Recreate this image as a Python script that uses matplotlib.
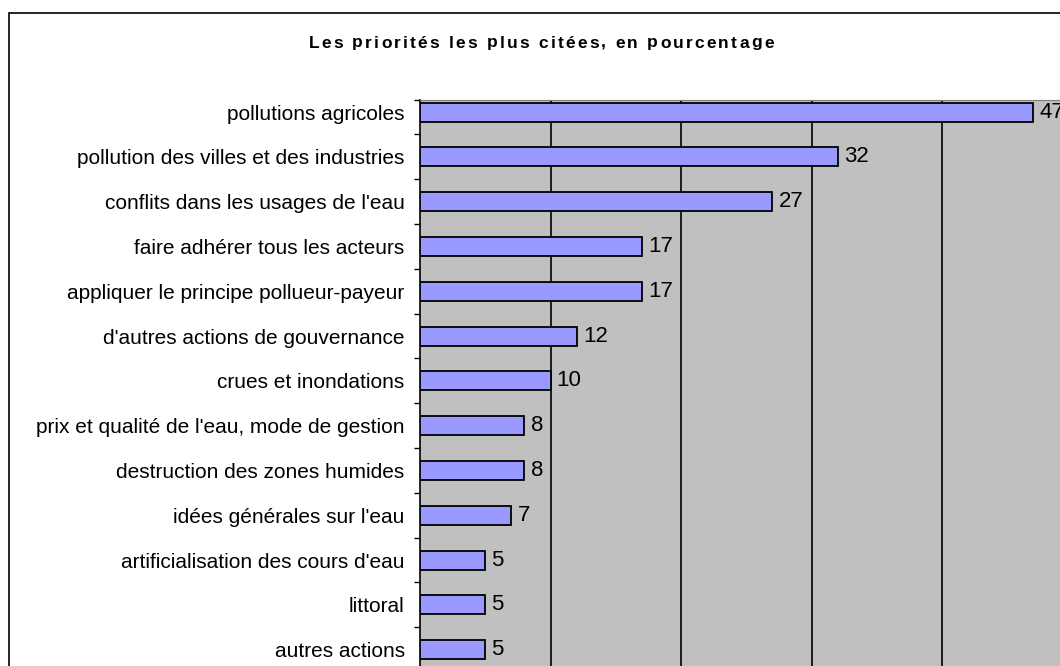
import matplotlib.pyplot as plt
from matplotlib.patches import Rectangle
from matplotlib.font_manager import FontProperties

plt.rcParams['font.family'] = ['Liberation Sans', 'DejaVu Sans']

categories = [
    "pollutions agricoles",
    "pollution des villes et des industries",
    "conflits dans les usages de l'eau",
    "faire adhérer tous les acteurs",
    "appliquer le principe pollueur-payeur",
    "d'autres actions de gouvernance",
    "crues et inondations",
    "prix et qualité de l'eau, mode de gestion",
    "destruction des zones humides",
    "idées générales sur l'eau",
    "artificialisation des cours d'eau",
    "littoral",
    "autres actions",
]
values = [47, 32, 27, 17, 17, 12, 10, 8, 8, 7, 5, 5, 5]
title = "Les priorités les plus citées, en pourcentage"

W, H = 1060, 666
fig = plt.figure(figsize=(W / 100, H / 100), dpi=100)

# outer chart frame (runs off the right and bottom edges)
fig.patches.append(Rectangle((9 / W, -0.1), 1.2, 1 - 13 / H + 0.1,
                             transform=fig.transFigure, fill=False,
                             edgecolor='black', linewidth=1.2))

# plot area, also clipped by the figure edges
left, top = 420, 100
ppu = 13.05          # pixels per unit on x
ppc = 44.8           # pixels per category
y_top, y_bot = -0.27, 13.0
ax_w = 50 * ppu
ax_h = (y_bot - y_top) * ppc
ax = fig.add_axes([left / W, (H - top - ax_h) / H, ax_w / W, ax_h / H])
ax.set_facecolor('#C0C0C0')

pos = list(range(len(categories)))
bars = ax.barh(pos, values, height=0.42, color='#9999FF',
               edgecolor='black', linewidth=1.3, zorder=3)
for b, v in zip(bars, values):
    ax.annotate(str(v), (b.get_width(), b.get_y() + b.get_height() / 2),
                xytext=(4.5, 0), textcoords='offset points',
                va='center', ha='left', fontsize=16, zorder=4)

ax.set_xlim(0, 50)
ax.set_ylim(y_bot, y_top)
ax.set_xticks([10, 20, 30, 40])
ax.xaxis.grid(True, color='black', linewidth=1.2, zorder=1)
ax.tick_params(axis='x', length=0, labelbottom=False)

ax.set_yticks(pos)
ax.set_yticklabels(categories, fontsize=15)
ax.set_yticks([y_top + 0.01] + [p + 0.5 for p in pos[:-1]], minor=True)
ax.tick_params(axis='y', which='major', length=0, pad=11)
ax.tick_params(axis='y', which='minor', length=4.5, width=1, color='black')

for s in ['right', 'bottom']:
    ax.spines[s].set_visible(False)
ax.spines['top'].set_color('#808080')
ax.spines['left'].set_color('black')
ax.spines['left'].set_linewidth(1.2)

# title with slightly wide letter spacing, placed char by char
prop = FontProperties(family='Liberation Sans', weight='bold', size=12.5)
r = fig.canvas.get_renderer()
gap = 2.2
widths = []
for ch in title:
    w = r.get_text_width_height_descent(ch if ch != ' ' else 'i', prop, ismath=False)[0]
    widths.append(w)
total = sum(widths) + gap * (len(title) - 1)
x = 541 - total / 2
for ch, w in zip(title, widths):
    fig.text(x / W, 1 - 43 / H, ch, ha='left', va='center',
             fontproperties=prop)
    x += w + gap

fig.savefig('out.png', dpi=100)
